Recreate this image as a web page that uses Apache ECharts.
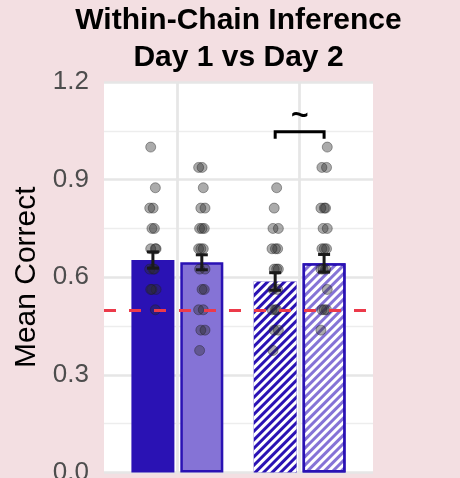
<!DOCTYPE html>
<html>
<head>
<meta charset="utf-8">
<script src="https://cdn.jsdelivr.net/npm/echarts@6/dist/echarts.min.js"></script>
<style>
    html, body { margin: 0; padding: 0; background: #F3DFE2; }
    #chart { width: 460px; height: 478px; }
</style>
</head>
<body>
<div id="chart"></div>
<script>
// group centres on the x axis, bars are dodged inside each group
var groupPos = [1, 2];
var dodge = [-0.2, 0.2];

// bar heights (mean) and standard errors, order: g1-day1, g1-day2, g2-day1, g2-day2
var barMeans = [0.653, 0.646, 0.587, 0.643];
var barSE = [0.025, 0.023, 0.027, 0.027];

// individual participant scores per bar
var pts1 = [1.0, 0.875, 0.8125, 0.8125, 0.75, 0.75, 0.6875, 0.6875, 0.6875, 0.625, 0.625, 0.625, 0.5625, 0.5625, 0.5625, 0.5];
var pts2 = [0.9375, 0.9375, 0.875, 0.8125, 0.8125, 0.75, 0.75, 0.75, 0.6875, 0.6875, 0.6875, 0.625, 0.625, 0.5625, 0.5625, 0.5, 0.5, 0.4375, 0.4375, 0.375];
var pts3 = [0.875, 0.8125, 0.75, 0.75, 0.6875, 0.6875, 0.6875, 0.625, 0.625, 0.625, 0.5625, 0.5625, 0.5, 0.5, 0.5, 0.4375, 0.4375, 0.375];
var pts4 = [1.0, 0.9375, 0.9375, 0.8125, 0.8125, 0.8125, 0.75, 0.75, 0.6875, 0.6875, 0.6875, 0.625, 0.625, 0.625, 0.5625, 0.5, 0.5, 0.5, 0.4375];

// small horizontal jitter, reused in turn
var jitter = [-0.018, 0.02, 0.002, -0.026, 0.012, -0.008, 0.026];

var chance = 0.5;
var sigLabel = '~';
var sigHeight = 1.047;

var darkBlue = '#2A12B4';
var lightBlue = '#8573D6';
var font = 'Liberation Sans, Arial, Helvetica, sans-serif';

function hatch() {
    return {
        symbol: 'rect',
        symbolSize: 1,
        dashArrayX: [1, 0],
        dashArrayY: [2.6, 2.8],
        rotation: -Math.PI / 4,
        color: '#ffffff'
    };
}

var barX = [];
groupPos.forEach(function (g) {
    dodge.forEach(function (d) { barX.push(g + d); });
});

var barStyles = [
    { color: darkBlue, borderColor: darkBlue, borderWidth: 0 },
    { color: lightBlue, borderColor: darkBlue, borderWidth: 2.5 },
    { color: darkBlue, borderColor: darkBlue, borderWidth: 0, decal: hatch() },
    { color: lightBlue, borderColor: darkBlue, borderWidth: 2.5, decal: hatch() }
];

var barData = barMeans.map(function (m, i) {
    return { value: [barX[i], m], itemStyle: barStyles[i] };
});

var errData = barMeans.map(function (m, i) {
    return [barX[i], m - barSE[i], m + barSE[i]];
});

var pointData = [];
[pts1, pts2, pts3, pts4].forEach(function (arr, i) {
    arr.forEach(function (v, k) {
        pointData.push([barX[i] + jitter[(k + i * 2) % jitter.length], v]);
    });
});

var chart = echarts.init(document.getElementById('chart'));
var option = {
    backgroundColor: '#F3DFE2',
    animation: false,
    graphic: [
        { type: 'text', x: 238.5, y: 21, style: { text: 'Within-Chain Inference', font: 'bold 30px ' + font, fill: '#000', textAlign: 'center', textVerticalAlign: 'middle' } },
        { type: 'text', x: 238.5, y: 58, style: { text: 'Day 1 vs Day 2', font: 'bold 30px ' + font, fill: '#000', textAlign: 'center', textVerticalAlign: 'middle' } }
    ],
    grid: {
        left: 104,
        right: 87,
        top: 82,
        bottom: 5.5,
        outerBoundsMode: 'none',
        containLabel: false,
        show: true,
        backgroundColor: '#ffffff',
        borderWidth: 0
    },
    xAxis: {
        type: 'value',
        min: 0.4,
        max: 2.6,
        axisLine: { show: false },
        axisTick: { show: false },
        axisLabel: { show: false },
        splitLine: { show: false }
    },
    yAxis: {
        type: 'value',
        min: 0,
        max: 1.2,
        interval: 0.3,
        name: 'Mean Correct',
        nameLocation: 'middle',
        nameGap: 62,
        nameTextStyle: { fontSize: 30, color: '#000', fontFamily: font },
        axisLine: { show: false },
        axisTick: { show: false },
        axisLabel: {
            fontSize: 26,
            color: '#4D4D4D',
            fontFamily: font,
            margin: 15,
            formatter: function (v) { return v.toFixed(1); }
        },
        splitLine: { show: true, lineStyle: { color: '#E6E6E6', width: 2.5 } },
        minorTick: { show: false, splitNumber: 2 },
        minorSplitLine: { show: true, lineStyle: { color: '#EDEDED', width: 1.3 } }
    },
    series: [
        {
            // vertical gridlines at the group centres
            type: 'scatter',
            data: [],
            z: 1,
            silent: true,
            markLine: {
                silent: true,
                symbol: 'none',
                label: { show: false },
                lineStyle: { color: '#E6E6E6', width: 2.7, type: 'solid' },
                data: groupPos.map(function (g) { return { xAxis: g }; })
            }
        },
        {
            type: 'bar',
            data: barData,
            barWidth: 43,
            z: 2
        },
        {
            // chance level
            type: 'scatter',
            data: [],
            z: 3,
            silent: true,
            markLine: {
                silent: true,
                symbol: 'none',
                label: { show: false },
                lineStyle: { color: '#EC3A4A', width: 3, type: [12, 13] },
                data: [{ yAxis: chance }]
            }
        },
        {
            type: 'scatter',
            data: pointData,
            symbolSize: 10,
            z: 4,
            itemStyle: {
                color: 'rgba(45,45,45,0.5)',
                borderColor: 'rgba(30,30,30,0.5)',
                borderWidth: 1
            }
        },
        {
            type: 'custom',
            z: 5,
            data: errData,
            renderItem: function (params, api) {
                var x = api.value(0);
                var top = api.coord([x, api.value(2)]);
                var bot = api.coord([x, api.value(1)]);
                var hw = 6;
                var st = { stroke: '#1A1A1A', lineWidth: 3 };
                return {
                    type: 'group',
                    children: [
                        { type: 'line', shape: { x1: top[0], y1: top[1], x2: bot[0], y2: bot[1] }, style: st },
                        { type: 'line', shape: { x1: top[0] - hw, y1: top[1], x2: top[0] + hw, y2: top[1] }, style: st },
                        { type: 'line', shape: { x1: bot[0] - hw, y1: bot[1], x2: bot[0] + hw, y2: bot[1] }, style: st }
                    ]
                };
            }
        },
        {
            // significance bracket between the two bars of group 2
            type: 'custom',
            z: 5,
            data: [[barX[2], barX[3], sigHeight]],
            renderItem: function (params, api) {
                var a = api.coord([api.value(0), api.value(2)]);
                var b = api.coord([api.value(1), api.value(2)]);
                var drop = 7;
                var st = { stroke: '#000', lineWidth: 3, fill: null };
                return {
                    type: 'group',
                    children: [
                        { type: 'polyline', shape: { points: [[a[0], a[1] + drop], a, b, [b[0], b[1] + drop]] }, style: st },
                        { type: 'text', x: (a[0] + b[0]) / 2, y: a[1] - 15, style: { text: sigLabel, font: 'bold 30px ' + font, fill: '#000', textAlign: 'center', textVerticalAlign: 'middle' } }
                    ]
                };
            }
        }
    ]
};
chart.setOption(option);
window.addEventListener('resize', function () {
    chart.resize();
});
</script>
</body>
</html>
